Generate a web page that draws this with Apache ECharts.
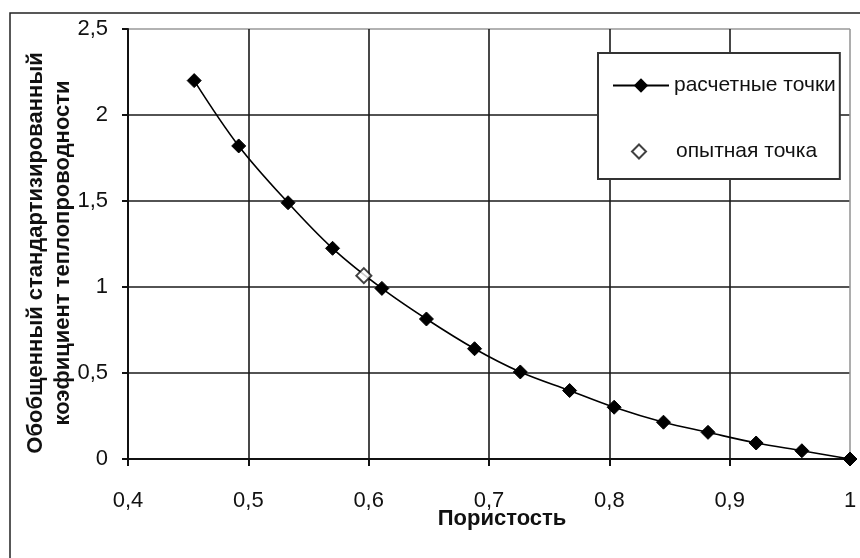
<!DOCTYPE html>
<html>
<head>
<meta charset="utf-8">
<script src="https://cdn.jsdelivr.net/npm/echarts@6/dist/echarts.min.js"></script>
<style>
html,body{margin:0;padding:0;background:#fff;}
#chart{width:860px;height:558px;}
</style>
</head>
<body>
<div id="chart"></div>
<script>
// Calculated points
var porosity = [0.455, 0.492, 0.533, 0.570, 0.611, 0.648, 0.688, 0.726, 0.767, 0.804, 0.845, 0.882, 0.922, 0.960, 1.0];
var conductivity = [2.20, 1.82, 1.49, 1.225, 0.992, 0.814, 0.641, 0.506, 0.398, 0.301, 0.214, 0.155, 0.093, 0.048, 0.0];
// Experimental point
var expPorosity = [0.596];
var expConductivity = [1.066];

var seriesNames = ['расчетные точки', 'опытная точка'];
var xTitle = 'Пористость';
var yTitle = 'Обобщенный стандартизированный\nкоэфициент теплопроводности';

var FONT = '"Liberation Sans", Arial, sans-serif';

function pairs(xs, ys) {
  var out = [];
  for (var i = 0; i < xs.length; i++) out.push([xs[i], ys[i]]);
  return out;
}
function commaFmt(v) {
  return String(Math.round(v * 100) / 100).replace('.', ',');
}

var chart = echarts.init(document.getElementById('chart'), null, {renderer: 'canvas'});
chart.setOption({
  animation: false,
  backgroundColor: '#fff',
  textStyle: {fontFamily: FONT},
  graphic: [{
    type: 'rect',
    shape: {x: 10, y: 13, width: 880, height: 580},
    style: {fill: 'none', stroke: '#222', lineWidth: 1.5},
    z: 0
  }],
  grid: {left: 128, right: 10, top: 29, bottom: 99, containLabel: false},
  legend: [{
    orient: 'vertical',
    left: 598,
    top: 53,
    padding: [22, 4, 83, 14],
    itemWidth: 56,
    itemHeight: 18,
    backgroundColor: '#fff',
    borderColor: '#333',
    borderWidth: 2,
    textStyle: {fontFamily: FONT, fontSize: 21, color: '#111'},
    data: [seriesNames[0]],
    z: 5
  }, {
    orient: 'vertical',
    left: 631,
    top: 141,
    padding: 0,
    itemWidth: 14,
    itemHeight: 14,
    textStyle: {fontFamily: FONT, fontSize: 21, color: '#111', padding: [0, 0, 0, 25]},
    data: [seriesNames[1]],
    z: 6
  }],
  xAxis: {
    type: 'value',
    min: 0.4, max: 1, interval: 0.1,
    name: xTitle,
    nameLocation: 'middle',
    nameMoveOverlap: false,
    nameGap: 49,
    nameTextStyle: {fontFamily: FONT, fontSize: 22, fontWeight: 'bold', color: '#111', padding: [0, 0, 0, 26]},
    axisLine: {show: true, onZero: false, lineStyle: {color: '#111', width: 2}},
    axisTick: {show: true, length: 7, lineStyle: {color: '#111', width: 2}},
    axisLabel: {margin: 31, fontFamily: FONT, fontSize: 22, color: '#111', formatter: commaFmt},
    splitLine: {show: true, lineStyle: {color: ['#1a1a1a','#1a1a1a','#1a1a1a','#1a1a1a','#1a1a1a','#1a1a1a','#999'], width: 1.6}}
  },
  yAxis: {
    type: 'value',
    min: 0, max: 2.5, interval: 0.5,
    name: yTitle,
    nameLocation: 'middle',
    nameRotate: 90,
    nameMoveOverlap: false,
    nameGap: 52,
    nameTextStyle: {fontFamily: FONT, fontSize: 22, fontWeight: 'bold', color: '#111', lineHeight: 27, align: 'center', padding: [0, 18, 0, 0]},
    axisLine: {show: true, lineStyle: {color: '#111', width: 2}},
    axisTick: {show: true, length: 6, lineStyle: {color: '#111', width: 2}},
    axisLabel: {margin: 20, fontFamily: FONT, fontSize: 22, color: '#111', formatter: commaFmt},
    splitLine: {show: true, lineStyle: {color: ['#1a1a1a','#1a1a1a','#1a1a1a','#1a1a1a','#1a1a1a','#999'], width: 1.6}}
  },
  series: [{
    name: seriesNames[0],
    type: 'line',
    smooth: 0.35,
    data: pairs(porosity, conductivity),
    symbol: 'diamond',
    symbolSize: 14,
    lineStyle: {color: '#000', width: 1.6},
    itemStyle: {color: '#000', borderColor: '#000'},
    z: 3
  }, {
    name: seriesNames[1],
    type: 'scatter',
    data: pairs(expPorosity, expConductivity),
    symbol: 'diamond',
    symbolSize: 15,
    itemStyle: {color: '#fff', borderColor: '#111', borderWidth: 2},
    z: 4
  }]
});
</script>
</body>
</html>
